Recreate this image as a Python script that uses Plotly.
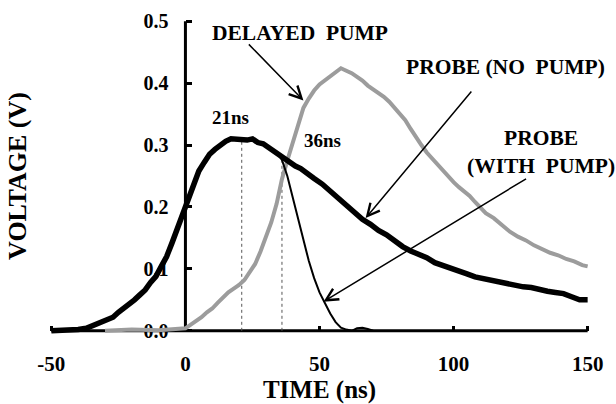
import plotly.graph_objects as go

# ---------------- data ----------------
probe_t = [-50, -45, -40, -37, -35, -33, -31, -29, -27, -25, -23, -21, -19, -17, -15, -13, -11, -9, -7, -5, -3, -1, 0,
           1, 3, 5, 7, 9, 11, 13, 15, 17, 19, 21, 23, 25, 27, 29, 31, 33, 35, 37, 39, 41, 43, 45, 48, 51, 54, 57,
           60, 63, 66, 69, 72, 75, 78, 81, 84, 87, 90, 93, 96, 99, 102, 105, 108, 111, 114, 117, 120, 123, 126,
           129, 132, 135, 138, 141, 144, 147, 150]
probe_v = [0.0, 0.0, 0.002, 0.004, 0.008, 0.01, 0.014, 0.02, 0.022, 0.03, 0.036, 0.044, 0.05, 0.058, 0.066, 0.078,
           0.088, 0.104, 0.12, 0.142, 0.165, 0.188, 0.2,
           0.215, 0.24, 0.258, 0.272, 0.285, 0.293, 0.3, 0.306, 0.31, 0.309, 0.31, 0.308, 0.31, 0.304, 0.302, 0.296,
           0.29, 0.282, 0.276, 0.272, 0.266, 0.262, 0.255, 0.246, 0.237, 0.226, 0.213,
           0.203, 0.192, 0.18, 0.172, 0.162, 0.155, 0.145, 0.136, 0.129, 0.124, 0.118, 0.11, 0.106, 0.1, 0.098,
           0.092, 0.087, 0.084, 0.082, 0.078, 0.076, 0.074, 0.071, 0.07, 0.066, 0.064, 0.062, 0.06, 0.055, 0.05, 0.05]

pump_t = [-30, -20, -10, 0, 2, 4, 6, 8, 10, 12, 14, 16, 18, 20, 22, 24, 26, 28, 30, 32, 34, 36, 38, 40, 42, 44,
          46, 48, 50, 52, 54, 56, 58, 60, 62, 64, 66, 68, 70, 72, 74, 76, 78, 80, 82, 84, 86, 88, 90, 92, 94, 96,
          98, 100, 102, 104, 106, 108, 110, 112, 115, 118, 121, 124, 127, 130, 133, 136, 139, 142, 145, 148, 150]
pump_v = [0.0, 0.002, 0.001, 0.004, 0.01, 0.016, 0.022, 0.03, 0.036, 0.045, 0.054, 0.062, 0.068, 0.074, 0.082,
          0.095, 0.108, 0.128, 0.15, 0.175, 0.205, 0.245, 0.275, 0.302, 0.33, 0.36,
          0.375, 0.388, 0.398, 0.405, 0.41, 0.418, 0.424, 0.42, 0.416, 0.41, 0.404, 0.396, 0.39, 0.384, 0.378,
          0.37, 0.36, 0.35, 0.34, 0.326, 0.312, 0.3, 0.288, 0.278, 0.268, 0.258,
          0.248, 0.24, 0.232, 0.225, 0.218, 0.208, 0.198, 0.19, 0.182, 0.17, 0.16, 0.152, 0.146, 0.138, 0.132,
          0.126, 0.122, 0.116, 0.112, 0.106, 0.104]

withpump_t = [35, 36, 38, 40, 42, 44, 46, 48, 50, 52, 54, 56, 58, 60, 62, 64, 66, 68, 70]
withpump_v = [0.282, 0.276, 0.25, 0.215, 0.185, 0.15, 0.113, 0.085, 0.062, 0.045, 0.028, 0.014, 0.005, 0.002,
              0.0, 0.004, 0.005, 0.003, 0.0]

marker_t = [21, 36]
marker_v = [0.31, 0.276]
marker_labels = ["21ns", "36ns"]

x_ticks = [-50, 0, 50, 100, 150]
x_ticktext = ["-50", "0", "50", "100", "150"]
y_ticks = [0.0, 0.1, 0.2, 0.3, 0.4, 0.5]
y_ticktext = ["0.0", "0.1", "0.2", "0.3", "0.4", "0.5"]

XR = [-52, 152]
YR = [-0.01, 0.51]

FONT = "Liberation Serif, Times New Roman, serif"

fig = go.Figure()

# dotted markers
for t, v in zip(marker_t, marker_v):
    fig.add_trace(go.Scatter(x=[t, t], y=[0, v], mode="lines",
                             line=dict(color="#555555", width=1, dash="dot"),
                             showlegend=False, hoverinfo="skip"))

fig.add_trace(go.Scatter(x=pump_t, y=pump_v, mode="lines", name="Delayed pump",
                         line=dict(color="#9c9c9c", width=4), showlegend=False))
fig.add_trace(go.Scatter(x=probe_t, y=probe_v, mode="lines", name="Probe (no pump)",
                         line=dict(color="black", width=5.5), showlegend=False))
fig.add_trace(go.Scatter(x=withpump_t, y=withpump_v, mode="lines", name="Probe (with pump)",
                         line=dict(color="black", width=2), showlegend=False))

# axis lines
fig.add_shape(type="line", x0=x_ticks[0], x1=x_ticks[-1], y0=0, y1=0, xref="x", yref="y",
              line=dict(color="black", width=3), layer="below")
fig.add_shape(type="line", x0=0, x1=0, y0=y_ticks[0], y1=y_ticks[-1], xref="x", yref="y",
              line=dict(color="black", width=3), layer="below")

ann_font = dict(family=FONT, size=21.5, color="black", weight="bold")

# labels for dotted markers
fig.add_annotation(x=16.8, y=0.344, text=marker_labels[0], showarrow=False, font=dict(family=FONT, size=19, weight="bold"))
fig.add_annotation(x=51.1, y=0.308, text=marker_labels[1], showarrow=False, font=dict(family=FONT, size=19, weight="bold"))

# curve labels
fig.add_annotation(x=42.9, y=0.481, text="DELAYED  PUMP", showarrow=False, font=ann_font)
fig.add_annotation(x=119.4, y=0.426, text="PROBE (NO  PUMP)", showarrow=False, font=ann_font)
fig.add_annotation(x=132.5, y=0.289, text="PROBE<br>(WITH  PUMP)", showarrow=False, font=ann_font)

arrow_kw = dict(text="", showarrow=True, arrowhead=5, arrowsize=1.6, arrowwidth=1.5,
                arrowcolor="black", axref="x", ayref="y", xref="x", yref="y")
fig.add_annotation(x=44.0, y=0.372, ax=23.1, ay=0.465, **arrow_kw)
fig.add_annotation(x=67.2, y=0.182, ax=107.1, ay=0.389, **arrow_kw)
fig.add_annotation(x=51.5, y=0.047, ax=127.6, ay=0.247, **arrow_kw)

fig.update_layout(
    width=616, height=404,
    margin=dict(l=46, r=23, t=15, b=67),
    paper_bgcolor="white", plot_bgcolor="white",
    font=dict(family=FONT, color="black"),
    xaxis=dict(range=XR, tickvals=x_ticks, ticktext=x_ticktext, ticks="inside", ticklen=5, tickwidth=3,
               tickcolor="black", showgrid=False, zeroline=False, showline=False, anchor="free",
               position=(0 - YR[0]) / (YR[1] - YR[0]), layer="below traces", automargin=False,
               tickfont=dict(family=FONT, size=21, weight="bold"), ticklabelstandoff=18,
               title=dict(text="TIME (ns)", font=dict(family=FONT, size=25, weight="bold"), standoff=9)),
    yaxis=dict(range=YR, tickvals=y_ticks, ticktext=y_ticktext, ticks="inside", ticklen=6, tickwidth=3,
               tickcolor="black", showgrid=False, zeroline=False, showline=False, anchor="free",
               position=(0 - XR[0]) / (XR[1] - XR[0]), layer="below traces", automargin=False,
               tickfont=dict(family=FONT, size=20, weight="bold"), ticklabelstandoff=17,
               title=dict(text="VOLTAGE (V)", font=dict(family=FONT, size=26, weight="bold"), standoff=108)),
)

fig.write_html("out.html")
